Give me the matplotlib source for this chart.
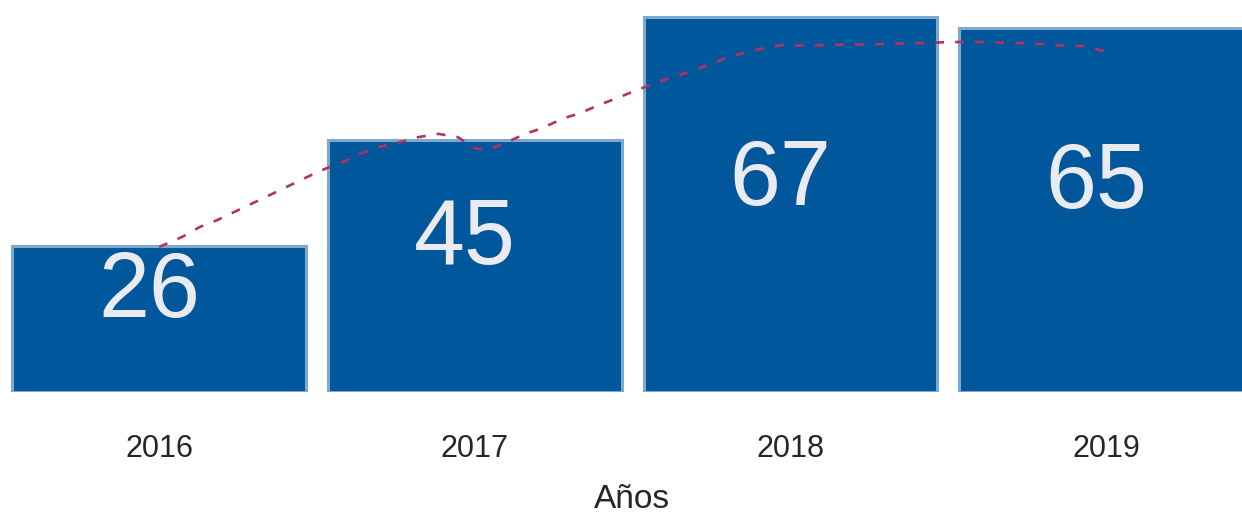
import matplotlib
matplotlib.use("Agg")
import matplotlib.pyplot as plt
import numpy as np

plt.rcParams['font.family'] = ['Liberation Sans', 'DejaVu Sans']

# datos
years = ["2016", "2017", "2018", "2019"]
values = [26, 45, 67, 65]

# linea de tendencia (posicion en categorias, valor)
line_x = [0.000, 0.073, 0.130, 0.184, 0.326, 0.469, 0.532, 0.583, 0.643, 0.700,
          0.763, 0.820, 0.884, 0.947, 0.995, 1.039, 1.102, 1.159, 1.213, 1.277,
          1.334, 1.391, 1.460, 1.508, 1.565, 1.628, 1.688, 1.745, 1.802, 1.866,
          1.926, 1.989, 2.053, 2.119, 2.179, 2.243, 2.306, 2.369, 2.433, 2.496,
          2.563, 2.623, 2.686, 2.749, 2.806, 2.870, 2.933, 3.003]
line_y = [25.9, 27.7, 29.5, 30.7, 34.5, 38.4, 40.0, 41.1, 42.7, 43.8,
          44.6, 45.5, 46.1, 45.5, 43.6, 43.2, 44.6, 46.1, 47.1, 48.8,
          49.8, 51.2, 52.7, 53.8, 55.0, 56.3, 57.3, 58.6, 59.8, 60.7,
          61.6, 62.0, 61.8, 62.0, 62.0, 62.1, 62.1, 62.3, 62.3, 62.5,
          62.5, 62.5, 62.3, 62.3, 62.1, 61.8, 61.8, 60.7]

# altura de las etiquetas dentro de las barras
label_y = [18.9, 28.4, 38.9, 38.4]

fig = plt.figure(figsize=(12.42, 5.15), dpi=100)
ax = fig.add_axes([0, 123 / 515, 1, 392 / 515])

x = np.arange(len(years))
ax.bar(x, values, width=0.93, color='#00579c', edgecolor='#7ea9cd', linewidth=2.2, zorder=2)

ax.plot(line_x, line_y, color='#b3325f', linewidth=1.9, dashes=(3.4, 4.2),
        solid_capstyle='butt', zorder=3)

for i, v in enumerate(values):
    ax.annotate(str(v), (x[i], label_y[i]), xytext=(-10, -7), textcoords='offset pixels',
                ha='center', va='center', fontsize=66, color='#e9ebf0', zorder=4)

ax.set_xlim(-0.504, 3.430)
ax.set_ylim(0, 70)
ax.set_xticks(x)
ax.set_xticklabels(years, fontsize=22, color='#262626')
ax.tick_params(axis='x', length=0, pad=30)
ax.set_yticks([])
for s in ax.spines.values():
    s.set_visible(False)

ax.set_xlabel("Años", fontsize=24, color='#262626')
ax.xaxis.set_label_coords(632.5 / 1242, -(500 - 392) / 392)
ax.xaxis.label.set_va('center')

fig.savefig("out.png", dpi=100)
